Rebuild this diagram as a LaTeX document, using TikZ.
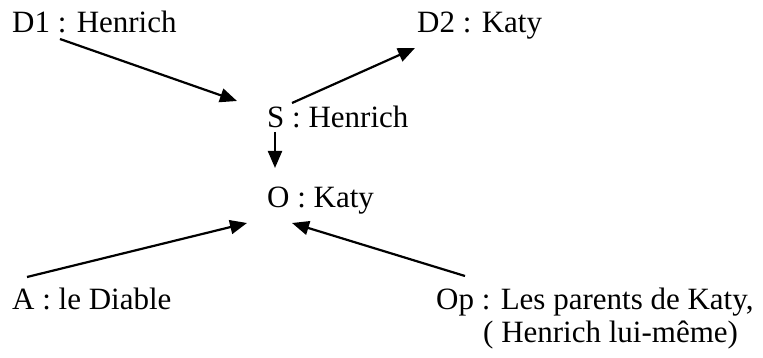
\documentclass[tikz,border=0pt]{standalone}
\usepackage{fontspec}
\setmainfont{Liberation Serif}
\usetikzlibrary{arrows.meta}
\tikzset{
  lbl/.style={anchor=base west, inner sep=0pt, font=\fontsize{31}{33}\selectfont},
  conn/.style={line width=2.2pt, -{Triangle[length=17pt,width=14pt]}}
}
\begin{document}
\begin{tikzpicture}[x=1pt,y=-1pt]
\useasboundingbox (0,0) rectangle (763,358);
\node[lbl] (D1) at (12,33) {D1 : Henrich};
\node[lbl] (D2) at (417,33) {D2 : Katy};
\node[lbl] (S) at (267,128) {S : Henrich};
\node[lbl] (O) at (267,208) {O : Katy};
\node[lbl] (A) at (12,309) {A : le Diable};
\node[lbl] (Op) at (436,309) {Op : Les parents de Katy,};
\node[lbl] (Op2) at (483,342) {( Henrich lui-même)};
\coordinate (D1out) at (60,39);
\coordinate (Sin) at (237,101);
\coordinate (Sout) at (292,103);
\coordinate (D2in) at (415,48);
\coordinate (Sdown) at (275,132);
\coordinate (Oin) at (275,168);
\coordinate (Aout) at (27,277);
\coordinate (OinL) at (247,223);
\coordinate (Opout) at (465,276);
\coordinate (OinR) at (292,223);
\draw[conn] (D1out) -- (Sin);
\draw[conn] (Sout) -- (D2in);
\draw[conn] (Sdown) -- (Oin);
\draw[conn] (Aout) -- (OinL);
\draw[conn] (Opout) -- (OinR);
\end{tikzpicture}
\end{document}
